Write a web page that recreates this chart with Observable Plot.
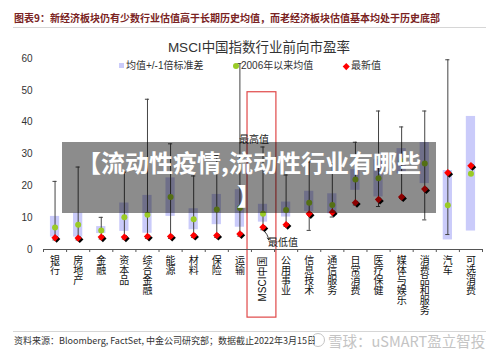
<!DOCTYPE html>
<html>
<head>
<meta charset="utf-8">
<script src="https://cdn.jsdelivr.net/npm/d3@7"></script>
<script src="https://cdn.jsdelivr.net/npm/@observablehq/plot@0.6"></script>
<style>
  html, body { margin: 0; padding: 0; background: #fff; }
  #wrap { position: relative; width: 500px; height: 356px; overflow: hidden;
          font-family: "Liberation Sans", "Noto Sans CJK SC", sans-serif; color: #333; }
  #wrap svg { position: absolute; left: 0; top: 0; }
  .abs { position: absolute; white-space: nowrap; }
</style>
</head>
<body>
<div id="wrap">
  <div class="abs" id="header" style="left:14px; top:10px; font-size:10px; font-weight:bold; color:#7a2323; font-family:'Noto Sans CJK SC', sans-serif; line-height:16px;"></div>
  <div class="abs" style="left:13px; top:27px; width:473px; border-top:1px solid #d6d6d6;"></div>
  <div class="abs" id="title" style="left:0; width:518px; text-align:center; top:38px; font-size:13.5px; line-height:20px; color:#333;"></div>
  <div id="legend"></div>
  <div class="abs" style="left:13px; top:331px; width:473px; border-top:1px solid #d6d6d6;"></div>
  <div class="abs" id="source" style="left:14px; top:334px; font-size:9px; line-height:14px; color:#333; font-family:'Noto Sans CJK SC', sans-serif;"></div>
  <div class="abs" style="left:311px; top:333px; width:14px; height:14px; border:1.5px solid #c4c4c4; border-radius:50%; box-sizing:border-box;"></div>
  <div class="abs" id="wm" style="left:328px; top:331px; font-size:14.5px; line-height:20px; color:#c4c4c4; font-family:'Noto Sans CJK SC', sans-serif;"></div>
</div>
<script>
// ---- data ----
const categories = ["银行","房地产","金融","资本品","综合金融","能源","材料","保险","运输","MSCI中国","公用事业","信息技术","通信服务","日常消费","医疗保健","媒体与娱乐","消费品和服务","汽车","可选消费"];
const maxValues  = [21.4, 25.9, 10.1, 24.3, 47.2, 33.2, 23.1, 29.5, 58.4, 32.2, 23.4, 27.5, 27.0, 33.7, 43.5, 38.5, 43.5, 59.6, null];
const minValues  = [3.0, 3.0, 3.3, 3.3, 3.5, 3.5, 3.8, 3.8, 4.2, 6.2, 7.3, 6.0, 10.2, 14.0, 13.5, 16.0, 9.3, 4.7, null];
const meanValues = [6.9, 7.8, 6.0, 10.1, 10.9, 16.5, 9.5, 12.6, 13.0, 11.2, 12.4, 14.7, 14.0, 22.0, 22.4, 27.7, 27.0, 13.9, 23.8];
const sdHigh     = [10.4, 11.4, 7.2, 14.6, 17.0, 22.5, 12.8, 17.3, 18.8, 14.2, 14.9, 18.3, 17.5, 25.1, 28.2, 31.7, 33.6, 24.8, 41.8];
const sdLow      = [3.9, 3.9, 5.0, 5.7, 5.1, 10.4, 6.2, 7.8, 7.0, 8.6, 10.2, 11.9, 11.2, 18.6, 16.5, 23.8, 20.7, 3.0, 5.8];
const latestValues = [3.7, 3.6, 3.9, 3.9, 4.1, 4.1, 4.4, 4.4, 4.9, 7.0, 7.8, 11.2, 11.7, 14.7, 15.7, 16.5, 19.0, 24.1, 26.3];
const yTicks = [0, 10, 20, 30, 40, 50, 60];
const highlight = "MSCI中国";

const headerText = "图表9：新经济板块仍有少数行业估值高于长期历史均值，而老经济板块估值基本均处于历史底部";
const titleText = "MSCI中国指数行业前向市盈率";
const legendLabels = ["均值+/-1倍标准差", "2006年以来均值", "最新值"];
const sourceText = "资料来源：Bloomberg, FactSet, 中金公司研究部；数据截止2022年3月15日";
const watermarkText = "雪球：uSMART盈立智投";
const bannerText = ["【流动性疫情,流动性行业有哪些", "】"];

// ---- colours ----
const boxColor = "#cacbfa", meanColor = "#9acb26", latestColor = "#ff0000", lineColor = "#444";

const rows = categories.map((c, i) => ({
  c, x: i + 0.5, max: maxValues[i], min: minValues[i], mean: meanValues[i],
  hi: sdHigh[i], lo: sdLow[i], latest: latestValues[i]
}));
const withRange = rows.filter(d => d.max != null);
const hl = rows.find(d => d.c === highlight);

const font = "'Liberation Sans', 'Noto Sans CJK SC', sans-serif";

const chart = Plot.plot({
  width: 500, height: 356,
  marginLeft: 43, marginRight: 18, marginTop: 58, marginBottom: 107,
  style: { fontFamily: font, background: "transparent", overflow: "visible", color: "#333" },
  x: { domain: [0, categories.length], axis: null },
  y: { domain: [0, 60], axis: null },
  marks: [
    Plot.rect(rows, { x1: d => d.x - 0.2, x2: d => d.x + 0.2, y1: "lo", y2: "hi", fill: boxColor }),
    Plot.ruleX(withRange, { x: "x", y1: "min", y2: "max", stroke: lineColor, strokeWidth: 1 }),
    Plot.ruleY(withRange, { x1: d => d.x - 0.09, x2: d => d.x + 0.09, y: "max", stroke: lineColor }),
    Plot.ruleY(withRange, { x1: d => d.x - 0.09, x2: d => d.x + 0.09, y: "min", stroke: lineColor }),
    Plot.dot(rows, { x: "x", y: "mean", r: 3, fill: meanColor }),
    Plot.dot(rows, { x: "x", y: "latest", r: 3.3, symbol: "diamond2", fill: "#000", dx: 1.6, dy: 1.4 }),
    Plot.dot(rows, { x: "x", y: "latest", r: 3.3, symbol: "diamond2", fill: latestColor }),
    // highlight frame + annotations
    Plot.rect([hl], { x1: d => d.x - 0.67, x2: d => d.x + 0.58, y1: -21.4, y2: 49.4, stroke: "#e04848", strokeWidth: 1.2, fill: "none" }),
    Plot.text([hl], { x: "x", y: "max", text: () => "最高值", dx: -9, dy: -7, fontSize: 10, fill: "#222" }),
    Plot.text([hl], { x: "x", y: "latest", text: () => "最低值", dx: 20, dy: 16, fontSize: 10, fill: "#222" }),
    Plot.arrow([hl], { x1: "x", y1: d => d.latest - 0.9, x2: d => d.x + 0.25, y2: d => d.latest - 4, bend: true, stroke: "#222", strokeWidth: 0.9, headLength: 4 }),
    // axes
    Plot.axisY({ ticks: yTicks, tickSize: 0, tickPadding: 11, fontSize: 10, label: null, fill: "#333" }),
    Plot.ruleY([0], { stroke: "#555" }),
    Plot.axisX({ ticks: d3.range(categories.length + 1), tickSize: 3, tickFormat: () => "", label: null, stroke: "#555" }),
    Plot.text(rows.filter(d => d.c !== highlight), { x: "x", y: () => 0, text: d => [...d.c].join("\n"), dy: 7, lineAnchor: "top", fontSize: 10, lineHeight: 1.0, fill: "#111" }),
    Plot.text([hl], { x: "x", y: () => 0, text: "c", rotate: -90, textAnchor: "end", lineAnchor: "middle", dy: 7, fontSize: 10, fill: "#111" })
  ]
});

const wrap = document.getElementById("wrap");
wrap.insertBefore(chart, wrap.firstChild);

document.getElementById("header").textContent = headerText;
document.getElementById("title").textContent = titleText;
document.getElementById("source").textContent = sourceText;
document.getElementById("wm").textContent = watermarkText;

// legend
const legend = document.getElementById("legend");
const legendItems = [
  { sym: `<div class="abs" style="left:119px; top:63px; width:5px; height:5px; background:${boxColor};"></div>`, x: 126 },
  { sym: `<div class="abs" style="left:233px; top:63px; width:6px; height:6px; border-radius:50%; background:${meanColor};"></div>`, x: 241 },
  { sym: `<div class="abs" style="left:343.5px; top:63.5px; width:4.5px; height:4.5px; transform:rotate(45deg); background:${latestColor};"></div>`, x: 351 }
];
legendItems.forEach((it, i) => {
  legend.insertAdjacentHTML("beforeend", it.sym +
    `<div class="abs" style="left:${it.x}px; top:59px; font-size:10px; line-height:14px; color:#333;">${legendLabels[i]}</div>`);
});

// banner overlay
wrap.insertAdjacentHTML("beforeend",
  `<div class="abs" style="left:62px; top:142px; width:374px; height:71px; background:rgba(0,0,0,0.45); color:#fff; text-align:center; font-family:'Noto Sans CJK SC', sans-serif; font-weight:bold; font-size:24px; line-height:33px; padding-top:3px; box-sizing:border-box;">${bannerText[0]}<br>${bannerText[1]}</div>`);
</script>
</body>
</html>
